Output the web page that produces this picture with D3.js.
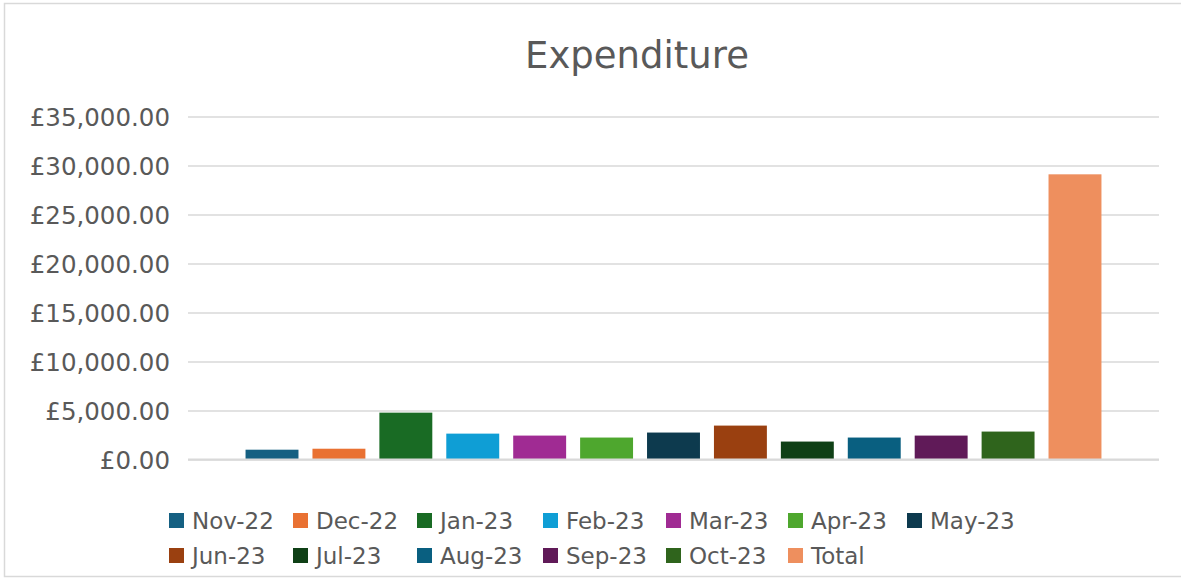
<!DOCTYPE html>
<html>
<head>
<meta charset="utf-8">
<script src="https://cdn.jsdelivr.net/npm/d3@7"></script>
<style>
  html, body { margin: 0; padding: 0; background: #fff; }
  svg { display: block; font-family: "DejaVu Sans", sans-serif; }
</style>
</head>
<body>
<svg id="chart" width="1181" height="578"></svg>
<script>
const title = "Expenditure";
const seriesNames = ["Nov-22","Dec-22","Jan-23","Feb-23","Mar-23","Apr-23","May-23","Jun-23","Jul-23","Aug-23","Sep-23","Oct-23","Total"];
const seriesValues = [1000, 1100, 4780, 2640, 2440, 2240, 2750, 3460, 1830, 2240, 2440, 2850, 29100];
const seriesColors = ["#156082","#E97132","#196B24","#0F9ED5","#A02B93","#4EA72E","#0D3A4E","#9A4010","#0F4016","#095F80","#601A58","#2F641C","#EE8F5E"];
const yTicks = [0, 5000, 10000, 15000, 20000, 25000, 30000, 35000];

const svg = d3.select("#chart");
const W = 1181, H = 578;
const plot = { left: 188, right: 1159, top: 116.5, bottom: 459.5 };
const textColor = "#595959";
const gridColor = "#d9d9d9";

// outer border
svg.append("rect")
  .attr("x", 4.5).attr("y", 3.5)
  .attr("width", W).attr("height", H - 5)
  .attr("fill", "#fff").attr("stroke", gridColor).attr("stroke-width", 1.5);

// title
svg.append("text")
  .attr("x", 637).attr("y", 68)
  .attr("text-anchor", "middle")
  .attr("font-size", 37)
  .attr("fill", textColor)
  .text(title);

const y = d3.scaleLinear().domain([0, 35000]).range([plot.bottom, plot.top]);
const x = d3.scaleBand().domain(seriesNames)
  .range([plot.left, plot.right])
  .paddingInner(0.209).paddingOuter(0.86);

// gridlines + labels via axis
const fmt = v => "£" + d3.format(",.2f")(v);
const yAxis = d3.axisLeft(y).tickValues(yTicks).tickFormat(fmt)
  .tickSize(-(plot.right - plot.left)).tickPadding(18);
const gy = svg.append("g").attr("transform", `translate(${plot.left},0)`).call(yAxis);
gy.select(".domain").remove();
gy.selectAll(".tick line").attr("stroke", gridColor).attr("stroke-width", 1.5);
gy.selectAll(".tick text")
  .attr("fill", textColor)
  .attr("font-size", 24.5)
  .attr("font-family", "DejaVu Sans, sans-serif")
  .attr("dy", "0.36em");

// bars
svg.append("g").selectAll("rect")
  .data(seriesNames.map((n, i) => ({ n, v: seriesValues[i], c: seriesColors[i] })))
  .join("rect")
  .attr("x", d => x(d.n))
  .attr("width", x.bandwidth())
  .attr("y", d => y(d.v))
  .attr("height", d => y(0) - y(d.v))
  .attr("fill", d => d.c);

// baseline axis line
svg.append("line")
  .attr("x1", plot.left).attr("x2", plot.right)
  .attr("y1", y(0)).attr("y2", y(0))
  .attr("stroke", gridColor).attr("stroke-width", 2);

// legend (grid layout, 7 columns)
const perRow = 7;
const colOffsets = [0, 124, 248, 374, 497, 619, 738];
const legendLeft = 169;
const rowY = [513, 548];
const lg = svg.append("g").selectAll("g")
  .data(seriesNames.map((n, i) => ({ n, c: seriesColors[i], i })))
  .join("g")
  .attr("transform", d => `translate(${legendLeft + colOffsets[d.i % perRow]},${rowY[Math.floor(d.i / perRow)]})`);
lg.append("rect").attr("width", 15).attr("height", 15).attr("fill", d => d.c);
lg.append("text")
  .attr("x", 23).attr("y", 16)
  .attr("font-size", 23)
  .attr("fill", textColor)
  .text(d => d.n);
</script>
</body>
</html>
